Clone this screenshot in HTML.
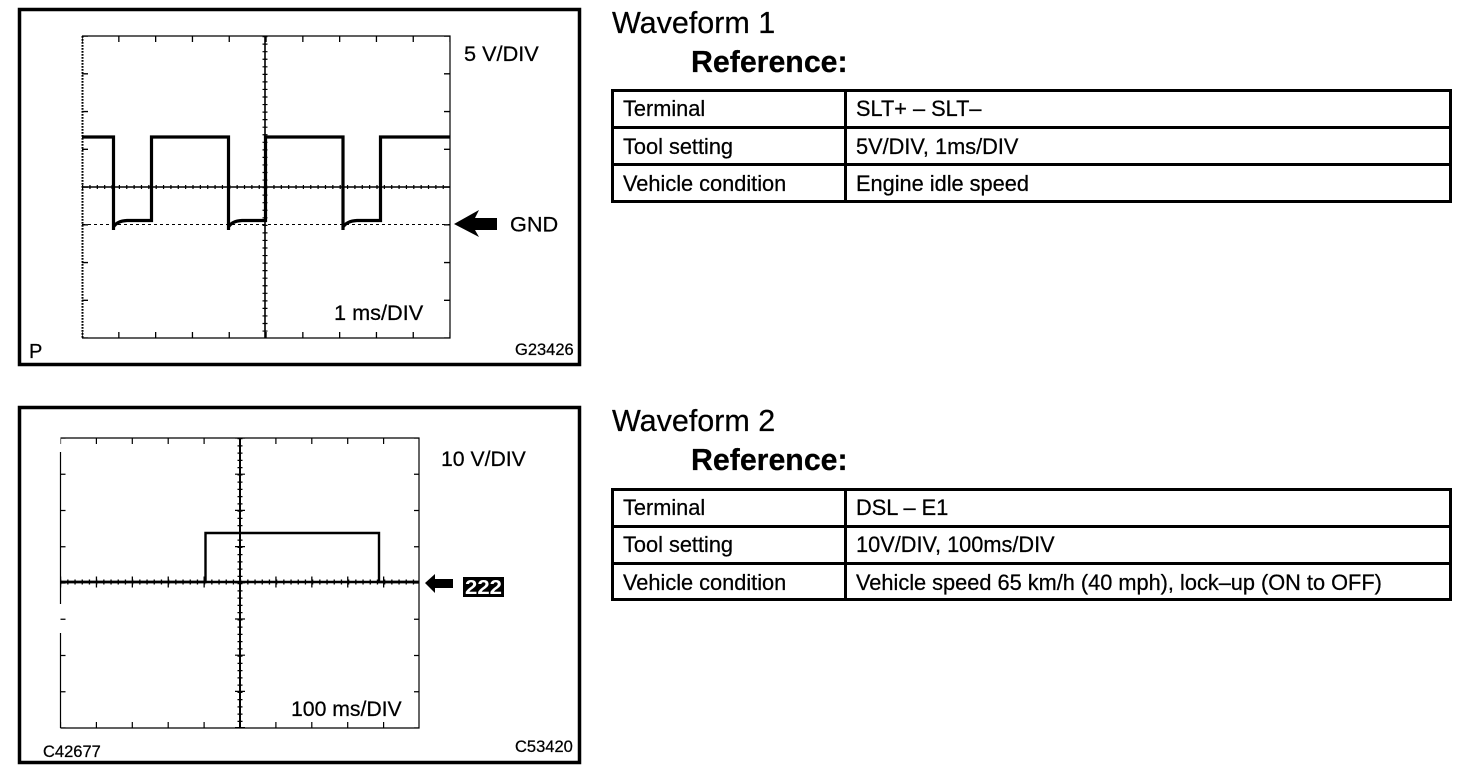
<!DOCTYPE html>
<html>
<head>
<meta charset="utf-8">
<style>
html,body{margin:0;padding:0;background:#fff}
svg{display:block}
text{font-family:"Liberation Sans",sans-serif;fill:#000;stroke:#000;stroke-width:.25}
</style>
</head>
<body>
<svg width="1472" height="782" viewBox="0 0 1472 782" xmlns="http://www.w3.org/2000/svg">
<rect width="1472" height="782" fill="#fff"/>

<!-- Panel 1 -->
<rect x="19.5" y="9.5" width="560" height="355" fill="none" stroke="#000" stroke-width="3.5"/>
<g fill="none" stroke="#000">
  <path d="M82 36H450V338H82" stroke-width="1.2"/>
  <path d="M265 36V338" stroke-width="1.6"/>
  <path d="M82 187H450" stroke-width="1.4"/>
  <path d="M82 224.5H450" stroke-width="1" stroke-dasharray="3 3"/>
  <!-- dotted left axis -->
  <path d="M82.5 36V338" stroke-width="2" stroke-dasharray="1.7 1.3"/>
  <!-- center axis ticks -->
  <path d="M265 36V338" stroke-width="5" stroke-dasharray="1.2 6.35"/>
  <path d="M82 187H450" stroke-width="4" stroke-dasharray="1.2 6.16"/>
  <!-- border major ticks -->
  <path d="M82 39H450" stroke-width="6" stroke-dasharray="1.3 35.5" stroke-dashoffset="0.6"/>
  <path d="M82 335H450" stroke-width="6" stroke-dasharray="1.3 35.5" stroke-dashoffset="0.6"/>
  <path d="M85 36V338" stroke-width="6" stroke-dasharray="1.3 36.45" stroke-dashoffset="0.6"/>
  <path d="M447 36V338" stroke-width="6" stroke-dasharray="1.3 36.45" stroke-dashoffset="0.6"/>
  <!-- waveform -->
  <path d="M82 137H113.5V230M113.5 227Q117 221 127 220.5H151.5V137H228.5V230M228.5 227Q232 221 242 220.5H265.5V137H343V230M343 227Q347 221 357 220.5H380.5V137H450" stroke-width="3.2"/>
</g>
<polygon points="454,224 479,210 475,218 497,218 497,230 475,230 479,237" fill="#000"/>
<text x="464" y="61" font-size="21.7">5 V/DIV</text>
<text x="510" y="231.5" font-size="21.7">GND</text>
<text x="334" y="320" font-size="21.7">1 ms/DIV</text>
<text x="29" y="358" font-size="20">P</text>
<text x="515" y="355" font-size="16.5">G23426</text>

<!-- Panel 2 -->
<rect x="19.5" y="407.5" width="560" height="355" fill="none" stroke="#000" stroke-width="3.5"/>
<g fill="none" stroke="#000">
  <path d="M60.5 438H419V728H60.5" stroke-width="1.2"/>
  <path d="M60.5 452V604M60.5 633V728" stroke-width="1.2"/>
  <path d="M240 438V728" stroke-width="2"/>
  <path d="M60 582H419" stroke-width="2.4"/>
  <!-- center ticks -->
  <path d="M240 438V728" stroke-width="5" stroke-dasharray="1.3 5.95"/>
  <path d="M60 582H419" stroke-width="5" stroke-dasharray="1.3 5.9"/>
  <path d="M240 438V728" stroke-width="10" stroke-dasharray="1.2 35" stroke-dashoffset="0.6"/>
  <path d="M60.5 582H419" stroke-width="11" stroke-dasharray="1.3 34.6" stroke-dashoffset="0.6"/>
  <!-- border ticks -->
  <path d="M60.5 441H419" stroke-width="6" stroke-dasharray="1.2 34.7" stroke-dashoffset="0.6"/>
  <path d="M60.5 725H419" stroke-width="6" stroke-dasharray="1.2 34.7" stroke-dashoffset="0.6"/>
  <path d="M63 438V728" stroke-width="5" stroke-dasharray="1.2 35.05" stroke-dashoffset="0.6"/>
  <path d="M416.5 438V728" stroke-width="5" stroke-dasharray="1.2 35.05" stroke-dashoffset="0.6"/>
  <!-- pulse -->
  <path d="M60 582H205.5V533H379V582H419" stroke-width="2.4"/>
</g>
<polygon points="425,583 435,574 435,579 453,579 453,588 435,588 435,593" fill="#000"/>
<rect x="463" y="577" width="41" height="20" fill="#000"/>
<text x="465" y="594" font-size="20" font-weight="bold" style="fill:#fff;stroke:none" textLength="37" lengthAdjust="spacingAndGlyphs">222</text>
<text x="441" y="466" font-size="21.2">10 V/DIV</text>
<text x="291" y="716" font-size="21.2">100 ms/DIV</text>
<text x="43" y="757" font-size="16.5">C42677</text>
<text x="515" y="752" font-size="16.5">C53420</text>

<!-- Right: Waveform 1 -->
<text x="612" y="33" font-size="30.5">Waveform 1</text>
<text x="691" y="72" font-size="30.3" font-weight="bold">Reference:</text>
<g fill="none" stroke="#000" stroke-width="3">
  <rect x="612.5" y="90.5" width="838" height="111"/>
  <path d="M612 127.5H1451M612 164.5H1451M845.5 90V202"/>
</g>
<g font-size="21.75">
  <text x="623" y="116">Terminal</text>
  <text x="856" y="116">SLT+ – SLT–</text>
  <text x="623" y="154">Tool setting</text>
  <text x="856" y="154">5V/DIV, 1ms/DIV</text>
  <text x="623" y="191">Vehicle condition</text>
  <text x="856" y="191">Engine idle speed</text>
</g>

<!-- Right: Waveform 2 -->
<text x="612" y="431" font-size="30.5">Waveform 2</text>
<text x="691" y="470" font-size="30.3" font-weight="bold">Reference:</text>
<g fill="none" stroke="#000" stroke-width="3">
  <rect x="612.5" y="489.5" width="838" height="110"/>
  <path d="M612 526.5H1451M612 563.5H1451M845.5 489V600"/>
</g>
<g font-size="21.75">
  <text x="623" y="515">Terminal</text>
  <text x="856" y="515">DSL – E1</text>
  <text x="623" y="552">Tool setting</text>
  <text x="856" y="552">10V/DIV, 100ms/DIV</text>
  <text x="623" y="590">Vehicle condition</text>
  <text x="856" y="590">Vehicle speed 65 km/h (40 mph), lock–up (ON to OFF)</text>
</g>
</svg>
</body>
</html>
